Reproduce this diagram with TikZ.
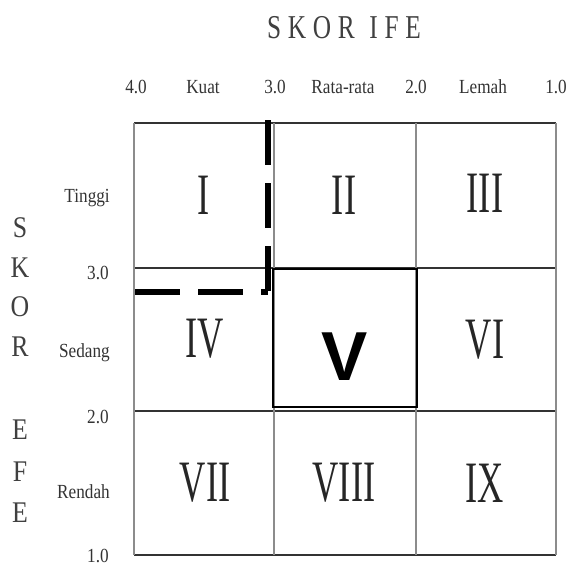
\documentclass[tikz,border=0pt]{standalone}
\usepackage{fontspec}
\setmainfont{Liberation Serif}
\newfontfamily\numfont[FakeStretch=0.62]{Liberation Serif}
\newfontfamily\labfont[FakeStretch=0.86]{Liberation Serif}
\newfontfamily\headfont[FakeStretch=0.76]{Liberation Serif}
\newfontfamily\vfont{Liberation Sans}
\usetikzlibrary{positioning}

\begin{document}
\begin{tikzpicture}[x=0.75pt,y=-0.75pt,hline/.style={draw=black!80,line width=1.1pt},vline/.style={draw=black!45,line width=1.4pt},num/.style={inner sep=0pt,text=black!85,font=\numfont\fontsize{44}{44}\selectfont},lab/.style={inner sep=0pt,text=black!80,font=\labfont\fontsize{15}{15}\selectfont},side/.style={inner sep=0pt,text=black!75,font=\labfont\fontsize{22.5}{22.5}\selectfont},head/.style={inner sep=0pt,text=black!75,font=\headfont\fontsize{25}{25}\selectfont},focus/.style={draw=black,line width=1.6pt,minimum width=108pt,minimum height=103.5pt,inner sep=0pt},bigv/.style={inner sep=0pt,font=\vfont\bfseries\fontsize{52}{52}\selectfont},dashline/.style={line width=3.8pt,dash pattern=on 33.75pt off 13.5pt}]
\useasboundingbox (0,0) rectangle (567,567);
% matrix lines
\foreach \yy in {123,268,411,555} \draw[hline] (134,\yy) -- (556,\yy);
\foreach \xx in {134,274,416,556} \draw[vline] (\xx,123) -- (\xx,555);
\node[focus] (c5) at (345,338) {};
% heading and IFE scale
\node[head] (ife) at (344,28) {S\hspace{5pt}K\hspace{5pt}O\hspace{5pt}R\hspace{11pt}I\hspace{5pt}F\hspace{5pt}E};
\node[lab] (t40) at (136,87) {4.0};\node[lab] (kuat) at (203,87) {Kuat};\node[lab] (t30) at (275,87) {3.0};\node[lab] (rata) at (343,87) {Rata-rata};
\node[lab] (t20) at (416,87) {2.0};\node[lab] (lemah) at (483,87) {Lemah};\node[lab] (t10) at (556,87) {1.0};
% EFE scale
\node[lab,anchor=east] (tinggi) at (110,198) {Tinggi};\node[lab,anchor=east] (e30) at (109,273) {3.0};\node[lab,anchor=east] (sedang) at (110,353) {Sedang};
\node[lab,anchor=east] (e20) at (109,417) {2.0};\node[lab,anchor=east] (rendah) at (110,492) {Rendah};\node[lab,anchor=east] (e10) at (109,556) {1.0};
\foreach \ch/\yy in {S/228,K/268,O/307,R/347,E/430,F/472,E/513} \node[side] (efe\yy) at (20,\yy) {\ch};
% cells
\node[num] (c1) at (204,195) {I};\node[num] (c2) at (344,195) {II};\node[num] (c3) at (485,193) {III};
\node[num] (c4) at (205,339) {IV};\node[bigv] (v) at (345,357) {V};\node[num] (c6) at (485,340) {VI};
\node[num] (c7) at (205,483) {VII};\node[num] (c8) at (344,483) {VIII};\node[num] (c9) at (485,483) {IX};
% dashed corner
\coordinate (dtop) at (268,120);\coordinate (dcorner) at (268,293);\coordinate (dleft) at (135,292);\coordinate (dend) at (268,292);
\draw[dashline] (dtop) -- (dcorner);\draw[dashline] (dleft) -- (dend);
\end{tikzpicture}
\end{document}
